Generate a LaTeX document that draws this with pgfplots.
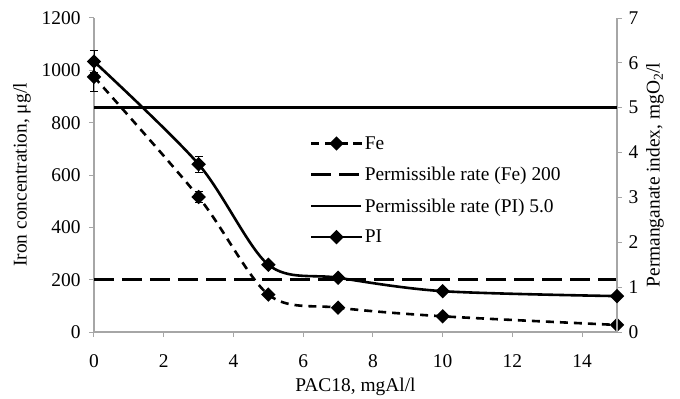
\documentclass[border=0pt]{standalone}
\usepackage{pgfplots}
\pgfplotsset{compat=1.18}
\usepackage{fontspec}
\setmainfont{Liberation Serif}

\pgfplotstableread{
x   y     err
0   975   55
3   516   20
5   143   8
7   93    6
10  60    5
15  27    4
}\fedata
\pgfplotstableread{
x   y     err
0   6.03  0.25
3   3.74  0.18
5   1.50  0.05
7   1.21  0.03
10  0.91  0.02
15  0.80  0.02
}\pidata

\begin{document}
\begin{tikzpicture}
\pgfplotsset{
  common/.style={
    scale only axis, width=523bp, height=314bp,
    xmin=0, xmax=15,
    font=\fontsize{19.5}{22}\selectfont,
    /pgf/number format/assume math mode=true,
    /pgf/number format/1000 sep={},
    axis line style={gray!70, line width=1.3bp},
    tick style={gray!70, line width=1bp},
    tick align=outside, major tick length=5bp,
    clip=false,
  },
  fe/.style={black, line width=2.6bp, dash pattern=on 8bp off 6bp, smooth, tension=0.5,
    mark=square*, mark size=3.8bp, mark options={solid, rotate=45, fill=black}},
  pi/.style={black, line width=2.6bp, solid, smooth, tension=0.5,
    mark=square*, mark size=3.8bp, mark options={solid, rotate=45, fill=black}},
  permfe/.style={black, line width=2.6bp, dash pattern=on 20bp off 8bp},
  permpi/.style={black, line width=2.6bp, solid},
}
\begin{axis}[common, name=ax,
  ymin=0, ymax=1200, ytick={0,200,...,1200},
  xtick={0,2,...,14},
  axis y line*=left, axis x line*=bottom,
  xticklabel style={yshift=-14bp},
  yticklabel style={xshift=-5bp},
  xlabel={PAC18, mgAl/l},
  ylabel={Iron concentration, μg/l},
  xlabel style={at={(axis description cs:0.5,-0.176)}, anchor=center},
  ylabel style={at={(axis description cs:-0.1377,0.5)}, anchor=center},
]
\addplot[permfe] coordinates {(0,200) (15,200)};
\addplot[fe, error bars/.cd, y dir=both, y explicit,
  error bar style={solid, line width=1bp, black},
  error mark options={rotate=90, mark size=4bp, line width=1bp, black}]
  table[x=x, y=y, y error=err] {\fedata};
\end{axis}
\begin{axis}[common,
  ymin=0, ymax=7, ytick={0,1,...,7},
  axis y line*=right, axis x line=none,
  yticklabel style={xshift=3bp},
  ylabel={Permanganate index, mgO\textsubscript{2}/l},
  ylabel style={at={(axis description cs:1.0727,0.5)}, anchor=center, rotate=0},
  legend style={draw=none, fill=none, at={(axis description cs:0.413,0.630)}, anchor=north west,
    row sep=12.5bp, font=\fontsize{19.5}{22}\selectfont, inner sep=0pt},
  legend cell align=left,
  legend image code/.code={\draw[mark repeat=2, mark phase=2, #1] plot coordinates {(0bp,0bp) (25bp,0bp) (50bp,0bp)};},
]
\addlegendimage{fe, smooth=false}
\addlegendentry{Fe}
\addlegendimage{permfe}
\addlegendentry{Permissible rate (Fe) 200}
\addplot[permpi] coordinates {(0,5) (15,5)};
\addlegendentry{Permissible rate (PI) 5.0}
\addplot[pi, error bars/.cd, y dir=both, y explicit,
  error bar style={solid, line width=1bp, black},
  error mark options={rotate=90, mark size=4bp, line width=1bp, black}]
  table[x=x, y=y, y error=err] {\pidata};
\addlegendentry{PI}
\end{axis}
\pgfresetboundingbox
\path[use as bounding box] ([shift={(-94bp,-67bp)}]ax.south west) rectangle ([shift={(63bp,18bp)}]ax.north east);
\end{tikzpicture}
\end{document}
